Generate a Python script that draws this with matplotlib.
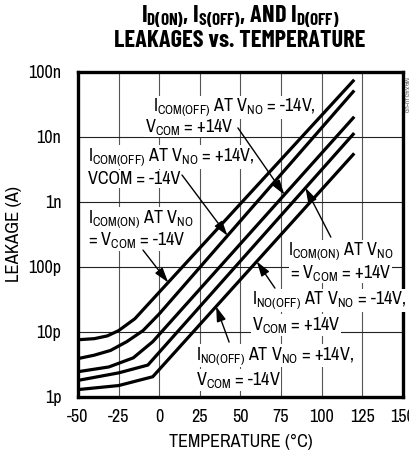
import matplotlib.pyplot as plt
import numpy as np

# leakage curves (temperature in degC, leakage in A)
t1 = [-50, -40, -32, -25, -15, 120]
c1 = [7.6e-12, 7.9e-12, 8.7e-12, 1.05e-11, 1.6e-11, 7.6e-8]
t2 = [-50, -40, -30, -20, -10, 0, 120]
c2 = [3.9e-12, 4.4e-12, 5.2e-12, 7.1e-12, 1.05e-11, 1.9e-11, 5.2e-8]
t3 = [-50, -31, -16, -4, 120]
c3 = [2.45e-12, 2.9e-12, 4.0e-12, 7.1e-12, 2.05e-8]
t4 = [-50, -25, -7, 120]
c4 = [1.8e-12, 2.35e-12, 3.1e-12, 1.15e-8]
t5 = [-50, -25, -4, 120]
c5 = [1.3e-12, 1.5e-12, 2.05e-12, 5.6e-9]

xticks = [-50, -25, 0, 25, 50, 75, 100, 125, 150]
yticks = [1e-12, 1e-11, 1e-10, 1e-9, 1e-8, 1e-7]
ylabels = ['1p', '10p', '100p', '1n', '10n', '100n']

plt.rcParams['font.family'] = ['Archivo Narrow', 'DejaVu Sans']
plt.rcParams['mathtext.fontset'] = 'custom'
plt.rcParams['mathtext.rm'] = 'Archivo Narrow'
plt.rcParams['mathtext.it'] = 'Archivo Narrow'
plt.rcParams['mathtext.bf'] = 'Barlow Condensed:bold'

fig = plt.figure(figsize=(4.1, 4.55), dpi=100)
ax = fig.add_axes([78/410, 1-397/455, 325/410, 325/455])

curves = [(t1, c1), (t2, c2), (t3, c3), (t4, c4), (t5, c5)]
for t, c in curves:
    ax.plot(t, c, color='black', lw=2.3, zorder=4, solid_capstyle='butt')

ax.set_yscale('log')
ax.set_xlim(-50, 150)
ax.set_ylim(1e-12, 1e-7)
ax.set_xticks(xticks)
ax.set_xticklabels([str(v) for v in xticks])
ax.set_yticks(yticks)
ax.set_yticklabels(ylabels)
ax.minorticks_off()
ax.tick_params(length=0, labelsize=13, pad=12)
ax.tick_params(axis='x', pad=9)
ax.xaxis.grid(True, color='#555555', lw=0.8, zorder=1)
ax.yaxis.grid(True, color='#222222', lw=0.8, zorder=1)
ax.set_axisbelow(True)
for s in ax.spines.values():
    s.set_linewidth(2.4)

ax.set_xlabel('TEMPERATURE (°C)', fontsize=13, labelpad=6)
ax.set_ylabel('LEAKAGE (A)', fontsize=13.5)
ax.yaxis.set_label_coords(-0.172, 0.5)

tfont = dict(family='Barlow Condensed', fontweight='bold', fontsize=17.5)
fig.text(240/410, 1-17/455, r'I$_{\mathbf{D(ON)}}$, I$_{\mathbf{S(OFF)}}$, AND I$_{\mathbf{D(OFF)}}$',
         ha='center', va='center', **tfont)
fig.text(240/410, 1-41/455, 'LEAKAGES vs. TEMPERATURE', ha='center', va='center', **tfont)
fig.text(406/410, 1-95/455, 'MAX4510-05', rotation=270, fontsize=5.5,
         ha='center', va='center', color='#666666')


def on_curve(k, temp):
    t, c = curves[k]
    return temp, 10 ** np.interp(temp, t, np.log10(c))


box = dict(facecolor='white', edgecolor='none', pad=0.5)
labels = [
    ((0.231, 0.891), r'I$_{\mathrm{COM(OFF)}}$ AT V$_{\mathrm{NO}}$ = -14V,'),
    ((0.206, 0.832), r'V$_{\mathrm{COM}}$ = +14V'),
    ((0.031, 0.738), r'I$_{\mathrm{COM(OFF)}}$ AT V$_{\mathrm{NO}}$ = +14V,'),
    ((0.031, 0.671), 'VCOM = -14V'),
    ((0.031, 0.548), r'I$_{\mathrm{COM(ON)}}$ AT V$_{\mathrm{NO}}$'),
    ((0.031, 0.483), r'= V$_{\mathrm{COM}}$ = -14V'),
    ((0.646, 0.448), r'I$_{\mathrm{COM(ON)}}$ AT V$_{\mathrm{NO}}$'),
    ((0.652, 0.383), r'= V$_{\mathrm{COM}}$ = +14V'),
    ((0.535, 0.297), r'I$_{\mathrm{NO(OFF)}}$ AT V$_{\mathrm{NO}}$ = -14V,'),
    ((0.535, 0.222), r'V$_{\mathrm{COM}}$ = +14V'),
    ((0.363, 0.127), r'I$_{\mathrm{NO(OFF)}}$ AT V$_{\mathrm{NO}}$ = +14V,'),
    ((0.363, 0.052), r'V$_{\mathrm{COM}}$ = -14V'),
]
for (x, y), s in labels:
    ax.text(x, y, s, transform=ax.transAxes, fontsize=13, ha='left', va='center',
            bbox=box, zorder=3)

# arrow tails (axes fraction) and the curve + temperature each one points at
arrows = [
    ((0.492, 0.828), 2, 77),
    ((0.320, 0.683), 1, 42),
    ((0.200, 0.452), 0, 5.5),
    ((0.778, 0.492), 3, 90),
    ((0.606, 0.335), 4, 60),
    ((0.465, 0.169), 4, 35),
]
for tail, k, temp in arrows:
    ax.annotate('', xy=on_curve(k, temp), xycoords='data', xytext=tail,
                textcoords='axes fraction', zorder=5,
                arrowprops=dict(arrowstyle='-|>,head_length=0.9,head_width=0.28',
                                color='black', lw=1.0, shrinkA=0, shrinkB=0))

fig.savefig('out.png', dpi=100)
